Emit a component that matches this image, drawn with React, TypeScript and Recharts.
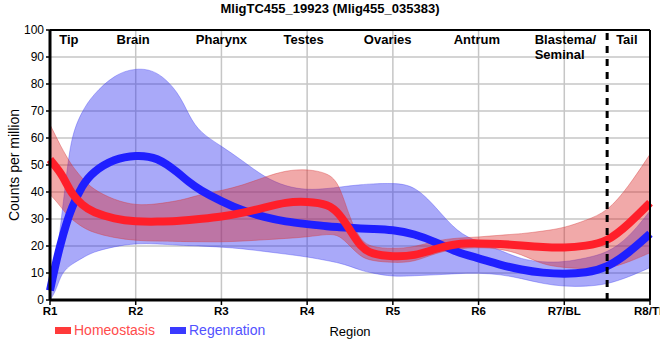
import React from 'react';
import {
  ComposedChart,
  Area,
  Line,
  XAxis,
  YAxis,
  CartesianGrid,
  ReferenceLine,
  ReferenceDot,
} from 'recharts';

// Sample positions along the body axis (1 = R1 ... 8 = R8)
const xs = [1, 1.0625, 1.125, 1.1875, 1.25, 1.375, 1.5, 1.75, 2, 2.25, 2.5, 2.625, 2.75, 3, 3.25, 3.5, 3.75, 4, 4.25, 4.375, 4.5, 4.625, 4.75, 5, 5.25, 5.5, 5.75, 6, 6.25, 6.5, 6.75, 7, 7.25, 7.5, 7.75, 8];

const homeoMean = [52, 49.5, 47, 43.5, 39.5, 35, 32.5, 30, 29, 29, 29.2, 29.6, 30, 30.8, 32.3, 34.2, 36.3, 36.5, 35.5, 32, 26, 19.6, 17, 16, 16.3, 19, 21, 21, 20.8, 20.2, 19.6, 19.3, 20, 21.5, 28, 36];
const homeoHigh = [65, 61, 57, 53.5, 50, 45, 41, 37, 35, 35.5, 36.8, 37.8, 39, 40.5, 42.5, 45.5, 48, 48.5, 47, 43, 30, 22, 19.5, 19, 19.5, 22, 23, 23.3, 24, 24.5, 25.5, 26.7, 29.5, 32.6, 42, 54];
const homeoLow = [39, 37, 34.5, 32, 30, 27, 25, 23, 22, 21.8, 21.7, 21.6, 21.6, 21.5, 21.8, 22.3, 22.8, 23.3, 24.5, 24, 20, 16, 14.5, 13.8, 14, 17.5, 19, 19.5, 19, 17, 13, 12, 11.5, 11.5, 14, 17.5];

const regenMean = [3.5, 13, 21, 28, 34, 42.5, 47.5, 52.3, 53.7, 53, 47, 43.5, 40.7, 36.5, 33, 30.7, 29, 28.1, 27.2, 27, 26.7, 26.5, 26.3, 26, 24.5, 21.5, 17.6, 15.5, 13, 11.2, 10, 9.6, 10, 12, 17.4, 24.5];
const regenHigh = [4, 12, 28, 45, 61, 70, 76, 83.5, 86, 85, 77, 68, 62, 57, 51.5, 45.5, 42, 40.7, 41.3, 41.8, 42.3, 42.7, 43, 43.3, 42.5, 34.5, 25, 21.5, 18.5, 15, 14, 14, 15.5, 17.4, 23, 33];
const regenLow = [0, 3, 9, 11.5, 13.2, 15.5, 17.8, 19.8, 21, 20.8, 20.3, 20.1, 20, 19.6, 19, 18, 17, 16, 14.5, 13.7, 12.5, 11, 10, 8.6, 9, 9.3, 9.8, 10, 9.5, 8, 6, 5, 5, 5.8, 8.5, 12];

const xTicks = [1, 2, 3, 4, 5, 6, 7, 8];
const xTickLabels = ['R1', 'R2', 'R3', 'R4', 'R5', 'R6', 'R7/BL', 'R8/TL'];
const yTicks = [0, 10, 20, 30, 40, 50, 60, 70, 80, 90, 100];

const regionNames = ['Tip', 'Brain', 'Pharynx', 'Testes', 'Ovaries', 'Antrum', 'Blastema/\nSeminal', 'Tail'];
const regionX = [1.22, 1.97, 3.0, 3.96, 4.94, 5.98, 6.655, 7.73];
const regionY = 94.8;
const boundaryX = 7.5;

const seriesNames = ['Homeostasis', 'Regenration'];

const data = xs.map((x, i) => ({
  x,
  hMean: homeoMean[i],
  hRange: [homeoLow[i], homeoHigh[i]],
  rMean: regenMean[i],
  rRange: [regenLow[i], regenHigh[i]],
}));

const RED_LINE = '#ff1f2a';
const BLUE_LINE = '#1f1fff';
const CURVE = 'basis';

const RegionLabel = (props: any) => {
  const { viewBox, text } = props;
  const lines: string[] = String(text).split('\n');
  const anchor = lines.length > 1 ? 'start' : 'middle';
  const x = viewBox.x;
  const y = viewBox.y;
  return (
    <text x={x} y={y} textAnchor={anchor} fontSize={13} fontWeight="bold" fill="#000">
      {lines.map((l, i) => (
        <tspan key={i} x={x} dy={i === 0 ? 0 : 15}>
          {l}
        </tspan>
      ))}
    </text>
  );
};

const YLabel = (props: any) => {
  const { viewBox } = props;
  const cx = viewBox.x + 19;
  const cy = viewBox.y + viewBox.height / 2;
  return (
    <text x={cx} y={cy} transform={`rotate(-90, ${cx}, ${cy})`} textAnchor="middle" fontSize={14} fill="#000">
      Counts per million
    </text>
  );
};

export default function App() {
  const legendColors = ['#ff3a3a', '#3a3aff'];
  const legendTextColors = ['#ff4c4c', '#5252ff'];
  const legendLeft = [55, 170];
  return (
    <div
      style={{
        position: 'absolute',
        left: 0,
        top: 0,
        width: 660,
        height: 360,
        overflow: 'hidden',
        background: '#fff',
        fontFamily: '"Liberation Sans", Arial, sans-serif',
      }}
    >
      <div
        style={{
          position: 'absolute',
          left: 0,
          top: 1,
          width: 660,
          textAlign: 'center',
          fontSize: 13,
          fontWeight: 'bold',
          color: '#000',
        }}
      >
        MligTC455_19923 (Mlig455_035383)
      </div>
      <ComposedChart width={660} height={360} data={data} margin={{ top: 30, right: 10, bottom: 20, left: 0 }}>
        <CartesianGrid stroke="#c6c6c6" strokeWidth={1.5} />
        <Area
          type={CURVE}
          dataKey="rRange"
          fill="#2828f0"
          fillOpacity={0.4}
          stroke="#3a3af0"
          strokeOpacity={0.35}
          strokeWidth={1}
          isAnimationActive={false}
          legendType="none"
          activeDot={false}
        />
        <Line
          type={CURVE}
          dataKey="rMean"
          name={seriesNames[1]}
          stroke={BLUE_LINE}
          strokeWidth={8}
          dot={false}
          activeDot={false}
          isAnimationActive={false}
        />
        <Area
          type={CURVE}
          dataKey="hRange"
          fill="#dc2828"
          fillOpacity={0.4}
          stroke="#d83a3a"
          strokeOpacity={0.4}
          strokeWidth={1}
          isAnimationActive={false}
          legendType="none"
          activeDot={false}
        />
        <Line
          type={CURVE}
          dataKey="hMean"
          name={seriesNames[0]}
          stroke={RED_LINE}
          strokeWidth={8}
          dot={false}
          activeDot={false}
          isAnimationActive={false}
        />
        <XAxis
          type="number"
          dataKey="x"
          domain={[1, 8]}
          ticks={xTicks}
          interval={0}
          tickFormatter={(v: number) => xTickLabels[v - 1]}
          height={40}
          tickSize={5}
          tickMargin={2}
          axisLine={{ stroke: '#000', strokeWidth: 3 }}
          tickLine={{ stroke: '#000', strokeWidth: 1.5 }}
          tick={{ fill: '#000', fontSize: 11.5, fontWeight: 'bold' }}
          label={{ value: 'Region', position: 'insideBottom', offset: 4, fontSize: 13, fill: '#000' }}
        />
        <YAxis
          type="number"
          domain={[0, 100]}
          ticks={yTicks}
          interval={0}
          width={50}
          tickSize={4}
          tickMargin={2}
          axisLine={{ stroke: '#000', strokeWidth: 3 }}
          tickLine={{ stroke: '#000', strokeWidth: 1.5 }}
          tick={{ fill: '#000', fontSize: 12 }}
          label={<YLabel />}
        />
        <ReferenceLine y={100} stroke="#000" strokeWidth={2} />
        <ReferenceLine x={8} stroke="#000" strokeWidth={2} />
        <ReferenceLine x={boundaryX} stroke="#000" strokeWidth={3} strokeDasharray="7 6" />
        {regionNames.map((name, i) => (
          <ReferenceDot
            key={name}
            x={regionX[i]}
            y={regionY}
            r={0}
            fill="none"
            stroke="none"
            label={<RegionLabel text={name} />}
          />
        ))}
      </ComposedChart>
      {seriesNames.map((name, i) => (
        <div key={name} style={{ position: 'absolute', left: legendLeft[i], top: 322, height: 16, display: 'flex', alignItems: 'center' }}>
          <div style={{ width: 16, height: 7, background: legendColors[i], marginRight: 3 }} />
          <span style={{ fontSize: 14, color: legendTextColors[i], lineHeight: '16px' }}>{name}</span>
        </div>
      ))}
    </div>
  );
}
